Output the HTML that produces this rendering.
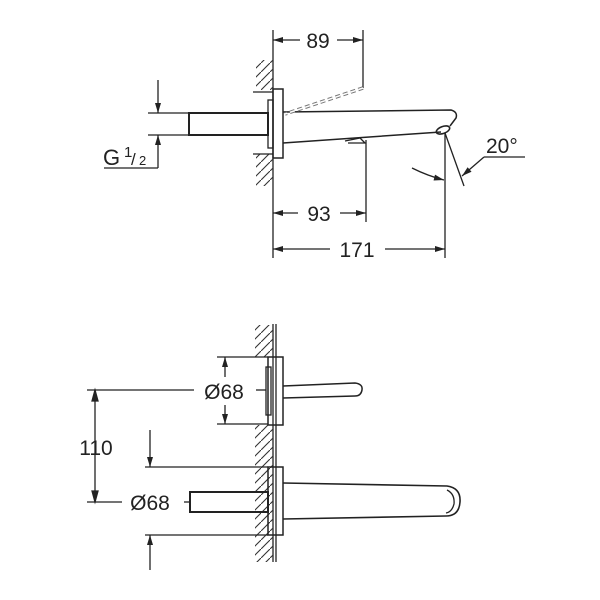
<!DOCTYPE html>
<html><head><style>body{margin:0;background:#fff}svg{display:block}</style></head><body>
<svg width="600" height="600" viewBox="0 0 600 600" xmlns="http://www.w3.org/2000/svg" font-family="Liberation Sans, sans-serif" fill="none" stroke="#222" stroke-width="1.3">
<defs>
<marker id="a" viewBox="0 0 10 6" refX="10" refY="3" markerWidth="11" markerHeight="6" orient="auto" markerUnits="userSpaceOnUse"><path d="M0,0L10,3L0,6z" fill="#222" stroke="none"/></marker>
<pattern id="h" width="9" height="9" patternUnits="userSpaceOnUse"><path d="M9,0L0,9" stroke="#333" stroke-width="1.1"/></pattern>
</defs>
<!-- TOP VIEW -->
<line x1="273" y1="30" x2="273" y2="258"/>
<rect x="256" y="60" width="17" height="30" fill="url(#h)" stroke="none"/>
<rect x="256" y="154" width="17" height="32" fill="url(#h)" stroke="none"/>
<line x1="253" y1="92" x2="273" y2="92"/><line x1="253" y1="154" x2="273" y2="154"/>
<rect x="273" y="89" width="10" height="69" stroke-width="1.5"/>
<rect x="268" y="100" width="5" height="48"/>
<rect x="189" y="113" width="79" height="22" stroke-width="2"/>
<line x1="148" y1="113" x2="189" y2="113"/><line x1="148" y1="135" x2="189" y2="135"/>
<line x1="158" y1="80" x2="158" y2="113" marker-end="url(#a)"/>
<line x1="158" y1="168" x2="158" y2="135" marker-end="url(#a)"/>
<line x1="104" y1="168" x2="158" y2="168"/>
<text x="103" y="165" font-size="22" fill="#222" stroke="none">G</text>
<text x="124" y="157" font-size="15" fill="#222" stroke="none">1</text>
<text x="131" y="165" font-size="17" fill="#222" stroke="none">/</text>
<text x="139" y="165" font-size="13" fill="#222" stroke="none">2</text>
<!-- spout -->
<path d="M283,112 L451,110 Q458,112 456,118 L450,126 M283,143 L441,132" stroke-width="1.5"/>
<ellipse cx="443" cy="130" rx="7" ry="3.5" transform="rotate(-20 443 130)" stroke-width="1.6"/>
<path d="M345,141 L360,138 L365,143 L348,143" />
<!-- 89 -->
<line x1="363" y1="30" x2="363" y2="88"/>
<path d="M363,88 L285,114" stroke-dasharray="5,3" stroke-width="3.5" stroke="#777"/>
<path d="M363,88 L285,114" stroke-dasharray="5,3" stroke-width="1.5" stroke="#fff"/>
<line x1="300" y1="40" x2="273" y2="40" marker-end="url(#a)"/>
<line x1="337" y1="40" x2="363" y2="40" marker-end="url(#a)"/>
<text x="318" y="48" font-size="21" text-anchor="middle" fill="#222" stroke="none">89</text>
<!-- 93 -->
<line x1="366" y1="140" x2="366" y2="222"/>
<line x1="298" y1="213" x2="273" y2="213" marker-end="url(#a)"/>
<line x1="340" y1="213" x2="366" y2="213" marker-end="url(#a)"/>
<text x="319" y="221" font-size="21" text-anchor="middle" fill="#222" stroke="none">93</text>
<!-- 171 -->
<line x1="445" y1="133" x2="445" y2="258"/>
<line x1="330" y1="249" x2="273" y2="249" marker-end="url(#a)"/>
<line x1="385" y1="249" x2="445" y2="249" marker-end="url(#a)"/>
<text x="357" y="257" font-size="21" text-anchor="middle" fill="#222" stroke="none">171</text>
<!-- 20 deg -->
<line x1="445" y1="133" x2="464" y2="186"/>
<line x1="525" y1="157" x2="484" y2="157"/>
<line x1="484" y1="157" x2="462" y2="176" marker-end="url(#a)"/>
<path d="M412,168 Q428,176 444,180" marker-end="url(#a)"/>
<text x="486" y="153" font-size="21" fill="#222" stroke="none">20°</text>
<!-- BOTTOM VIEW -->
<line x1="273" y1="324" x2="273" y2="562"/>
<line x1="276" y1="324" x2="276" y2="562"/>
<rect x="255" y="325" width="18" height="32" fill="url(#h)" stroke="none"/>
<rect x="255" y="425" width="18" height="137" fill="url(#h)" stroke="none"/>
<rect x="268" y="357" width="15" height="68" stroke-width="1.5"/>
<rect x="266" y="367" width="5" height="48"/>
<path d="M283,386 L355,383 Q363,384 362,390 Q361,396 355,396 L283,398" stroke-width="1.5"/>
<line x1="217" y1="357" x2="268" y2="357"/><line x1="217" y1="424" x2="268" y2="424"/>
<line x1="225" y1="377" x2="225" y2="357" marker-end="url(#a)"/>
<line x1="225" y1="405" x2="225" y2="424" marker-end="url(#a)"/>
<text x="224" y="399" font-size="21" text-anchor="middle" fill="#222" stroke="none">Ø68</text>
<line x1="87" y1="390" x2="194" y2="390"/>
<line x1="256" y1="390" x2="266" y2="390"/>
<line x1="95" y1="390" x2="95" y2="502"/>
<path d="M92,401 L95,390 L98,401z M92,491 L95,502 L98,491z" fill="#222"/>
<text x="96" y="455" font-size="21" text-anchor="middle" fill="#222" stroke="none">110</text>
<line x1="87" y1="502" x2="122" y2="502"/>
<text x="150" y="510" font-size="21" text-anchor="middle" fill="#222" stroke="none">Ø68</text>
<line x1="184" y1="502" x2="190" y2="502"/>
<line x1="145" y1="467" x2="268" y2="467"/><line x1="145" y1="535" x2="268" y2="535"/>
<line x1="150" y1="430" x2="150" y2="467" marker-end="url(#a)"/>
<line x1="150" y1="570" x2="150" y2="535" marker-end="url(#a)"/>
<rect x="190" y="492" width="78" height="20" stroke-width="2"/>
<rect x="268" y="467" width="15" height="68" stroke-width="1.5"/>
<path d="M283,483 L447,486 Q461,488 460,502 Q459,516 446,516 L283,519" stroke-width="1.6"/>
<path d="M447,490 Q455,494 454,504 Q452,512 446,513"/>
</svg>
</body></html>
